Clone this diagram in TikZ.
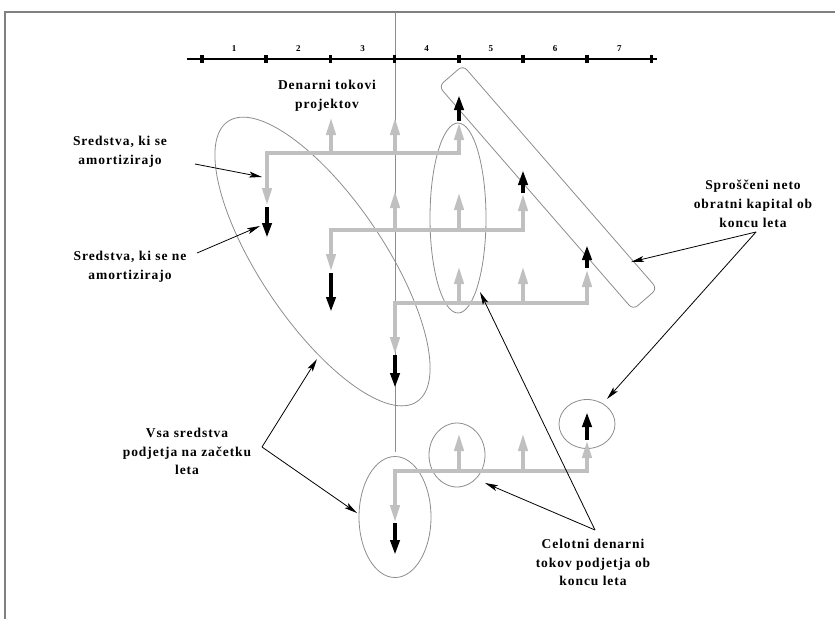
\documentclass[tikz,border=0pt]{standalone}
\usepackage{fontspec}
\setmainfont{Liberation Serif}[LetterSpace=7]
\usetikzlibrary{arrows.meta,shapes.geometric}
\definecolor{flowgray}{HTML}{C0C0C0}
\definecolor{linegray}{HTML}{8C8C8C}
\definecolor{framegray}{HTML}{808080}
\begin{document}
\begin{tikzpicture}[x=1pt,y=-1pt,
  flow/.style={draw=flowgray, line width=4pt},
  gup/.style={flow, -{Triangle[length=18pt,width=9pt]}},
  gboth/.style={flow, {Triangle[length=18pt,width=9pt]}-{Triangle[length=18pt,width=9pt]}},
  blk/.style={draw=black, line width=4pt, -{Triangle[length=15pt,width=9pt]}},
  ann/.style={draw=black, line width=0.8pt, -{Stealth[length=13pt,width=6pt,inset=3pt]}},
  ell/.style={draw=linegray, line width=0.8pt, ellipse, inner sep=0pt},
  lbl/.style={font=\fontsize{13.5}{18.7}\selectfont\bfseries, align=center, inner sep=0pt},
  num/.style={font=\fontsize{9}{10}\selectfont\bfseries, inner sep=0pt},
  tick/.style={fill=black, minimum width=3.5pt, minimum height=8pt, inner sep=0pt}
]
\useasboundingbox (0,0) rectangle (835,619);
% frame
\draw[framegray, line width=2pt] (5,619) -- (5,12) -- (835,12);
% vertical gray line
\draw[linegray, line width=0.9pt] (395,12) -- (395,452);
% timeline
\draw[black, line width=2pt] (187,59) -- (657,59);
\foreach \i/\x in {0/202,1/266.2,2/330.4,3/394.6,4/458.8,5/523,6/587.2,7/651.4}{
  \node[tick] (t\i) at (\x,59) {};
}
\foreach \i/\x in {1/234.1,2/298.3,3/362.5,4/426.7,5/490.9,6/555.1,7/619.3}{
  \node[num] (n\i) at (\x,49) {\i};
}
% ellipses and rounded box
\node[ell, minimum width=338pt, minimum height=124pt, rotate=-56] (E1) at (322.5,261.5) {};
\node[ell, minimum width=56pt, minimum height=190pt] (E2) at (458,218) {};
\node[ell, minimum width=72pt, minimum height=121pt] (E3) at (395,517) {};
\node[ell, minimum width=56pt, minimum height=64pt] (E4) at (457,455) {};
\node[ell, minimum width=56pt, minimum height=49pt] (E5) at (587,424) {};
\node[draw=linegray, line width=0.8pt, rectangle, rounded corners=6pt,
      minimum width=296pt, minimum height=32pt, inner sep=0pt, rotate=-49] (R) at (548,187.5) {};
% flow 1 (y=153)
\draw[gboth] (267,206) -- (267,153) -- (459,153) -- (459,122);
\draw[gup] (331,153) -- (331,117);
\draw[gup] (395,153) -- (395,117);
\draw[blk] (267,207) -- (267,238);
\draw[blk] (459,121) -- (459,95);
% flow 2 (y=230)
\draw[gboth] (331,272) -- (331,230) -- (523,230) -- (523,193);
\draw[gup] (395,230) -- (395,190);
\draw[gup] (459,230) -- (459,192);
\draw[blk] (331,273) -- (331,312);
\draw[blk] (523,193) -- (523,170);
% flow 3 (y=303)
\draw[gboth] (395,355) -- (395,303) -- (587,303) -- (587,269);
\draw[gup] (459,303) -- (459,266);
\draw[gup] (523,303) -- (523,266);
\draw[blk] (395,355) -- (395,388);
\draw[blk] (587,268) -- (587,245);
% flow 4 (y=471)
\draw[gboth] (395,523) -- (395,471) -- (587,471) -- (587,440);
\draw[gup] (459,471) -- (459,433);
\draw[gup] (523,471) -- (523,433);
\draw[blk] (395,523) -- (395,555);
\draw[blk] (587,440) -- (587,412);
% labels
\node[lbl] (L1) at (327,96) {Denarni tokovi\\projektov};
\node[lbl] (L2) at (120,152) {Sredstva, ki se\\amortizirajo};
\node[lbl] (L3) at (130,266.5) {Sredstva, ki se ne\\amortizirajo};
\node[lbl] (L4) at (187,451.5) {Vsa sredstva\\podjetja na začetku\\leta};
\node[lbl] (L5) at (593,562.5) {Celotni denarni\\tokov podjetja ob\\koncu leta};
\node[lbl] (L6) at (753,204) {Sproščeni neto\\obratni kapital ob\\koncu leta};
% annotation anchors
\coordinate (a1s) at (195,164); \coordinate (a1e) at (262,177);
\coordinate (a2s) at (197,253); \coordinate (a2e) at (260,226);
\coordinate (a3s) at (262,447); \coordinate (a3e) at (317,359); \coordinate (a3f) at (357,513);
\coordinate (a4s) at (595,530); \coordinate (a4e) at (485,483); \coordinate (a4f) at (480,292);
\coordinate (a5s) at (756,232); \coordinate (a5e) at (631,262); \coordinate (a5f) at (607,399);
\draw[ann] (a1s) -- (a1e);
\draw[ann] (a2s) -- (a2e);
\draw[ann] (a3s) -- (a3e);
\draw[ann] (a3s) -- (a3f);
\draw[ann] (a4s) -- (a4e);
\draw[ann] (a4s) -- (a4f);
\draw[ann] (a5s) -- (a5e);
\draw[ann] (a5s) -- (a5f);
\end{tikzpicture}
\end{document}
